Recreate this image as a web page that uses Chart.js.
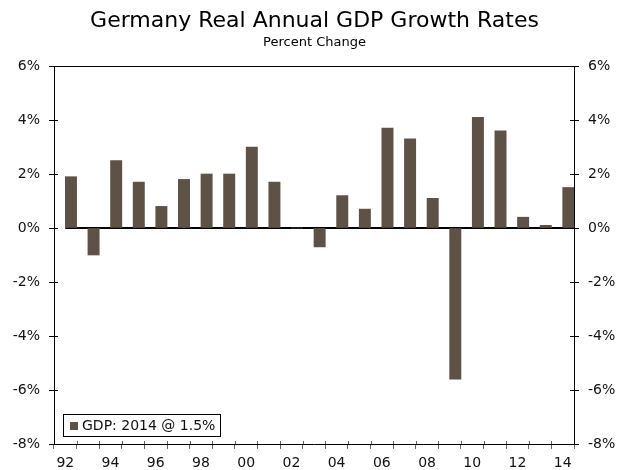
<!DOCTYPE html>
<html>
<head>
<meta charset="utf-8">
<script src="https://cdn.jsdelivr.net/npm/chart.js@4"></script>
<style>
  html, body { margin: 0; padding: 0; background: #fff; }
  #wrap { width: 629px; height: 470px; }
</style>
</head>
<body>
<div id="wrap"><canvas id="gdpChart" width="629" height="470"></canvas></div>
<script>
// Datos
const years = ['92', '93', '94', '95', '96', '97', '98', '99', '00', '01', '02', '03',
               '04', '05', '06', '07', '08', '09', '10', '11', '12', '13', '14'];
const gdpGrowth = [1.9, -1.0, 2.5, 1.7, 0.8, 1.8, 2.0, 2.0, 3.0, 1.7, 0.0, -0.7,
                   1.2, 0.7, 3.7, 3.3, 1.1, -5.6, 4.1, 3.6, 0.4, 0.1, 1.5];
const yMin = -8;
const yMax = 6;
const yStep = 2;

const barColor = '#5e5246';
const gdpLabel = `GDP: 20${years[years.length - 1]} @ ${gdpGrowth[gdpGrowth.length - 1]}%`;

Chart.defaults.font.family = '"DejaVu Sans", Verdana, sans-serif';
Chart.defaults.font.size = 14;
Chart.defaults.color = '#111';

// Marco: línea de cero, borde superior, marcas interiores y leyenda
const frameLines = {
    id: 'frameLines',
    beforeDatasetsDraw(chart) {
        const { ctx, chartArea, scales } = chart;
        const bars = chart.getDatasetMeta(1).data;
        const y0 = scales.y.getPixelForValue(0);
        const x0 = bars[0].x - bars[0].width / 2;
        ctx.save();
        ctx.strokeStyle = '#000';
        ctx.lineWidth = 2;
        ctx.beginPath();
        ctx.moveTo(x0, y0);
        ctx.lineTo(chartArea.right, y0);
        ctx.stroke();
        ctx.restore();
    },
    afterDraw(chart) {
        const { ctx, chartArea: a, scales } = chart;
        ctx.save();
        ctx.strokeStyle = '#000';
        ctx.lineWidth = 1;

        // borde superior
        ctx.beginPath();
        ctx.moveTo(a.left, Math.round(a.top) + 0.5);
        ctx.lineTo(a.right, Math.round(a.top) + 0.5);
        ctx.stroke();

        // parte interior de las marcas del eje y
        ctx.beginPath();
        scales.y.ticks.forEach(t => {
            const py = Math.round(scales.y.getPixelForValue(t.value)) + 0.5;
            ctx.moveTo(a.left, py);
            ctx.lineTo(a.left + 4, py);
            ctx.moveTo(a.right, py);
            ctx.lineTo(a.right - 4, py);
        });
        ctx.stroke();

        // parte interior de las marcas del eje x
        const slot = scales.x.width / years.length;
        ctx.strokeStyle = '#666';
        ctx.beginPath();
        for (let i = 1; i < years.length; i++) {
            const px = Math.round(scales.x.getPixelForValue(i) - slot / 2) + 0.5;
            ctx.moveTo(px, a.bottom);
            ctx.lineTo(px, a.bottom - 3);
        }
        ctx.stroke();

        // leyenda
        const lx = Math.round(a.left) + 9;
        const ly = Math.round(a.bottom) - 30;
        ctx.fillStyle = '#fff';
        ctx.fillRect(lx, ly, 157, 22);
        ctx.strokeStyle = '#000';
        ctx.strokeRect(lx + 0.5, ly + 0.5, 157, 22);
        ctx.fillStyle = barColor;
        ctx.fillRect(lx + 7, ly + 8, 8, 8);
        ctx.fillStyle = '#111';
        ctx.font = '14px "DejaVu Sans"';
        ctx.textBaseline = 'middle';
        ctx.fillText(chart.data.datasets[1].label, lx + 19, ly + 12);
        ctx.restore();
    }
};

const yAxis = (position, width, padding) => ({
    type: 'linear',
    position,
    min: yMin,
    max: yMax,
    ticks: { stepSize: yStep, padding, callback: v => v + '%' },
    grid: { drawOnChartArea: false, tickLength: 5, tickColor: '#000' },
    border: { color: '#000' },
    afterFit: s => { s.width = width; }
});

new Chart(document.getElementById('gdpChart').getContext('2d'), {
    type: 'bar',
    data: {
        labels: years,
        datasets: [
            { label: '', data: [] },
            {
                label: gdpLabel,
                data: gdpGrowth,
                backgroundColor: barColor,
                borderWidth: 0
            }
        ]
    },
    plugins: [frameLines],
    options: {
        responsive: false,
        animation: false,
        datasets: { bar: { categoryPercentage: 1, barPercentage: 1 } },
        layout: { padding: { left: 0, right: 0, top: 0, bottom: 0 } },
        plugins: {
            legend: { display: false },
            tooltip: { enabled: false },
            title: {
                display: true,
                text: 'Germany Real Annual GDP Growth Rates',
                color: '#000',
                font: { family: '"DejaVu Sans", Verdana, sans-serif', size: 22, weight: 'normal' },
                padding: { top: 8, bottom: 0 }
            },
            subtitle: {
                display: true,
                text: 'Percent Change',
                color: '#000',
                font: { family: '"DejaVu Sans", Verdana, sans-serif', size: 13 },
                padding: { top: 0, bottom: 16 }
            }
        },
        scales: {
            x: {
                offset: true,
                grid: { offset: true, drawOnChartArea: false, tickLength: 5, tickColor: '#666' },
                border: { color: '#000' },
                ticks: {
                    autoSkip: false,
                    maxRotation: 0,
                    padding: 6,
                    callback: (v, i) => (i % 2 === 0 ? years[i] : '')
                },
                afterFit: s => { s.height = 26; }
            },
            y: yAxis('left', 54, 9),
            y2: yAxis('right', 55, 9)
        }
    }
});
</script>
</body>
</html>
